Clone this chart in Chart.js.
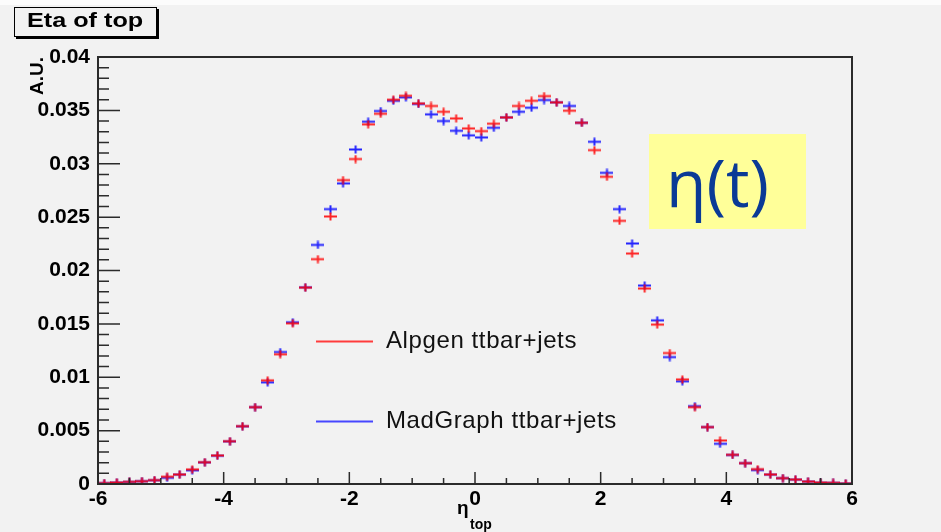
<!DOCTYPE html>
<html>
<head>
<meta charset="utf-8">
<script src="https://cdn.jsdelivr.net/npm/chart.js@4.4.0/dist/chart.umd.min.js"></script>
<style>
  html, body { margin: 0; padding: 0; background: #f2f2f2; }
  #wrap { position: relative; width: 941px; height: 532px; overflow: hidden; background: #f2f2f2; }
  #topstrip { position: absolute; left: 0; top: 0; width: 941px; height: 5px; background: #fcfcfc; }
  #histTitle {
    position: absolute; left: 14px; top: 7px; width: 141px; height: 28px;
    border: 1px solid #000; background: #f2f2f2; box-shadow: 2px 2px 0 #000;
    color: #000; overflow: hidden;
  }
  #histTitle span {
    position: absolute; left: 12px; top: 0; line-height: 29px;
    font: bold 21px "Liberation Sans", Arial, sans-serif;
    transform: scaleX(1.2); transform-origin: 0 50%; white-space: nowrap;
  }
  #etaBox {
    position: absolute; left: 649px; top: 134px; width: 157px; height: 95px;
    background: #ffff99; color: #0a3a96;
  }
  #etaBox span {
    position: absolute; left: 17px; top: 2px; line-height: 88px;
    font: 66px "Open Sans", "Noto Sans", sans-serif; white-space: nowrap;
  }
  canvas { position: absolute; left: 0; top: 0; }
</style>
</head>
<body>
<div id="wrap">
  <div id="topstrip"></div>
  <canvas id="etaChart" width="941" height="532"></canvas>
  <div id="histTitle"><span>Eta of top</span></div>
  <div id="etaBox"><span>η(t)</span></div>
</div>
<script>
// bin centres of eta(top), bin width 0.2
const binCenters = [-5.9, -5.7, -5.5, -5.3, -5.1, -4.9, -4.7, -4.5, -4.3, -4.1,
  -3.9, -3.7, -3.5, -3.3, -3.1, -2.9, -2.7, -2.5, -2.3, -2.1,
  -1.9, -1.7, -1.5, -1.3, -1.1, -0.9, -0.7, -0.5, -0.3, -0.1,
  0.1, 0.3, 0.5, 0.7, 0.9, 1.1, 1.3, 1.5, 1.7, 1.9,
  2.1, 2.3, 2.5, 2.7, 2.9, 3.1, 3.3, 3.5, 3.7, 3.9,
  4.1, 4.3, 4.5, 4.7, 4.9, 5.1, 5.3, 5.5, 5.7, 5.9];
const binWidth = 0.2;

const alpgen = [0.00008, 0.00014, 0.00020, 0.00026, 0.00036, 0.00068, 0.00089, 0.00137, 0.00204, 0.00267,
  0.00401, 0.00542, 0.00720, 0.00971, 0.01215, 0.01505, 0.01840, 0.02106, 0.02506, 0.02847,
  0.03044, 0.03369, 0.03468, 0.03600, 0.03637, 0.03565, 0.03541, 0.03487, 0.03425, 0.03331,
  0.03306, 0.03375, 0.03434, 0.03541, 0.03590, 0.03634, 0.03575, 0.03497, 0.03384, 0.03128,
  0.02878, 0.02465, 0.02159, 0.01831, 0.01493, 0.01227, 0.00980, 0.00720, 0.00533, 0.00408,
  0.00274, 0.00195, 0.00139, 0.00089, 0.00055, 0.00042, 0.00023, 0.00014, 0.00011, 0.00005];

const madgraph = [0.00008, 0.00013, 0.00019, 0.00026, 0.00035, 0.00058, 0.00088, 0.00128, 0.00202, 0.00265,
  0.00399, 0.00540, 0.00720, 0.00952, 0.01236, 0.01515, 0.01842, 0.02240, 0.02575, 0.02816,
  0.03134, 0.03394, 0.03494, 0.03590, 0.03622, 0.03560, 0.03463, 0.03400, 0.03309, 0.03266,
  0.03247, 0.03337, 0.03434, 0.03487, 0.03525, 0.03597, 0.03575, 0.03541, 0.03384, 0.03206,
  0.02915, 0.02575, 0.02253, 0.01859, 0.01533, 0.01189, 0.00962, 0.00729, 0.00533, 0.00377,
  0.00272, 0.00195, 0.00130, 0.00088, 0.00055, 0.00041, 0.00023, 0.00012, 0.00010, 0.00005];

const xTickLabels = [-6, -4, -2, 0, 2, 4, 6];
const yTickLabels = [0, 0.005, 0.01, 0.015, 0.02, 0.025, 0.03, 0.035, 0.04];

const FONT = "'Liberation Sans', Arial, Helvetica, sans-serif";
const AXIS_COL = "#2b2b2b";

// ROOT style error cross: horizontal bar over the bin, short vertical bar
function makeCross(color, widthPx) {
    const c = document.createElement("canvas");
    c.width = widthPx;
    c.height = 9;
    const g = c.getContext("2d");
    g.strokeStyle = color;
    g.lineWidth = 2;
    g.beginPath();
    g.moveTo(0, 4.5); g.lineTo(widthPx, 4.5);
    g.moveTo(widthPx / 2, 0.5); g.lineTo(widthPx / 2, 8.5);
    g.stroke();
    return c;
}

const pxPerUnit = (852 - 98) / 12;
const crossW = Math.round(binWidth * pxPerUnit);
const redCross = makeCross("rgba(255,0,0,0.85)", crossW);
const blueCross = makeCross("rgba(0,0,255,0.85)", crossW);

const rootFrame = {
    id: "rootFrame",
    afterDraw(chart) {
        const ctx = chart.ctx;
        const xs = chart.scales.x, ys = chart.scales.y;
        const a = chart.chartArea;
        ctx.save();
        ctx.strokeStyle = AXIS_COL;
        ctx.lineWidth = 2;
        ctx.strokeRect(a.left, a.top, a.right - a.left, a.bottom - a.top);

        ctx.lineWidth = 1.5;
        ctx.beginPath();
        // x ticks: major every 2, minor every 0.5
        for (let v = xs.min; v <= xs.max + 1e-9; v += 0.5) {
            const px = xs.getPixelForValue(v);
            const major = Math.abs(v / 2 - Math.round(v / 2)) < 1e-6;
            const len = major ? 12 : 6;
            ctx.moveTo(px, a.bottom);
            ctx.lineTo(px, a.bottom - len);
        }
        // y ticks: major every 0.005, minor every 0.001
        for (let i = 0; i <= 40; i++) {
            const v = i * 0.001;
            const py = ys.getPixelForValue(v);
            const len = (i % 5 === 0) ? 22 : 11;
            ctx.moveTo(a.left, py);
            ctx.lineTo(a.left + len, py);
        }
        ctx.stroke();

        // legend
        const legendY = [341.5, 421.5];
        chart.data.datasets.forEach((ds, i) => {
            ctx.strokeStyle = ds.borderColor;
            ctx.lineWidth = 2;
            ctx.beginPath();
            ctx.moveTo(316, legendY[i]);
            ctx.lineTo(373, legendY[i]);
            ctx.stroke();
            ctx.fillStyle = "#111";
            ctx.font = "24px " + FONT;
            ctx.textBaseline = "middle";
            ctx.textAlign = "left";
            if (ctx.letterSpacing !== undefined) ctx.letterSpacing = "0.6px";
            ctx.fillText(ds.label, 386, legendY[i]);
            if (ctx.letterSpacing !== undefined) ctx.letterSpacing = "0px";
        });

        // x axis title: eta with subscript "top"
        ctx.fillStyle = "#000";
        ctx.textBaseline = "alphabetic";
        ctx.font = "bold 19px " + FONT;
        ctx.fillText("η", 457, 514);
        ctx.font = "bold 14px " + FONT;
        ctx.fillText("top", 470, 529);

        // y axis title
        ctx.translate(43, 57);
        ctx.rotate(-Math.PI / 2);
        ctx.font = "bold 19px " + FONT;
        ctx.textAlign = "right";
        ctx.textBaseline = "alphabetic";
        ctx.fillText("A.U.", 0, 0);
        ctx.restore();
    }
};

const ctx = document.getElementById("etaChart").getContext("2d");

const chart = new Chart(ctx, {
    type: "scatter",
    data: {
        datasets: [{
            label: "Alpgen ttbar+jets",
            data: binCenters.map((c, i) => ({ x: c, y: alpgen[i] })),
            borderColor: "rgb(255, 60, 60)",
            pointStyle: redCross,
            pointRadius: 3
        }, {
            label: "MadGraph ttbar+jets",
            data: binCenters.map((c, i) => ({ x: c, y: madgraph[i] })),
            borderColor: "rgb(70, 70, 255)",
            pointStyle: blueCross,
            pointRadius: 3
        }]
    },
    options: {
        responsive: false,
        animation: false,
        layout: { padding: { top: 57, right: 89, left: 0, bottom: 0 } },
        plugins: {
            legend: { display: false },
            tooltip: { enabled: false },
            title: { display: false }
        },
        scales: {
            x: {
                type: "linear",
                min: -6,
                max: 6,
                afterBuildTicks: (s) => { s.ticks = xTickLabels.map(v => ({ value: v })); },
                afterFit: (s) => { s.height = 48; },
                grid: { display: false, drawTicks: false },
                border: { display: false },
                ticks: {
                    autoSkip: false,
                    maxRotation: 0,
                    padding: 3,
                    color: "#000",
                    font: { family: FONT, size: 21, weight: "bold" },
                    callback: (v) => String(v)
                }
            },
            y: {
                type: "linear",
                min: 0,
                max: 0.04,
                afterBuildTicks: (s) => { s.ticks = yTickLabels.map(v => ({ value: v })); },
                afterFit: (s) => { s.width = 98; },
                grid: { display: false, drawTicks: false },
                border: { display: false },
                ticks: {
                    padding: 8,
                    color: "#000",
                    font: { family: FONT, size: 21, weight: "bold" },
                    callback: (v) => String(parseFloat(Number(v).toFixed(4)))
                }
            }
        }
    },
    plugins: [rootFrame]
});
</script>
</body>
</html>
